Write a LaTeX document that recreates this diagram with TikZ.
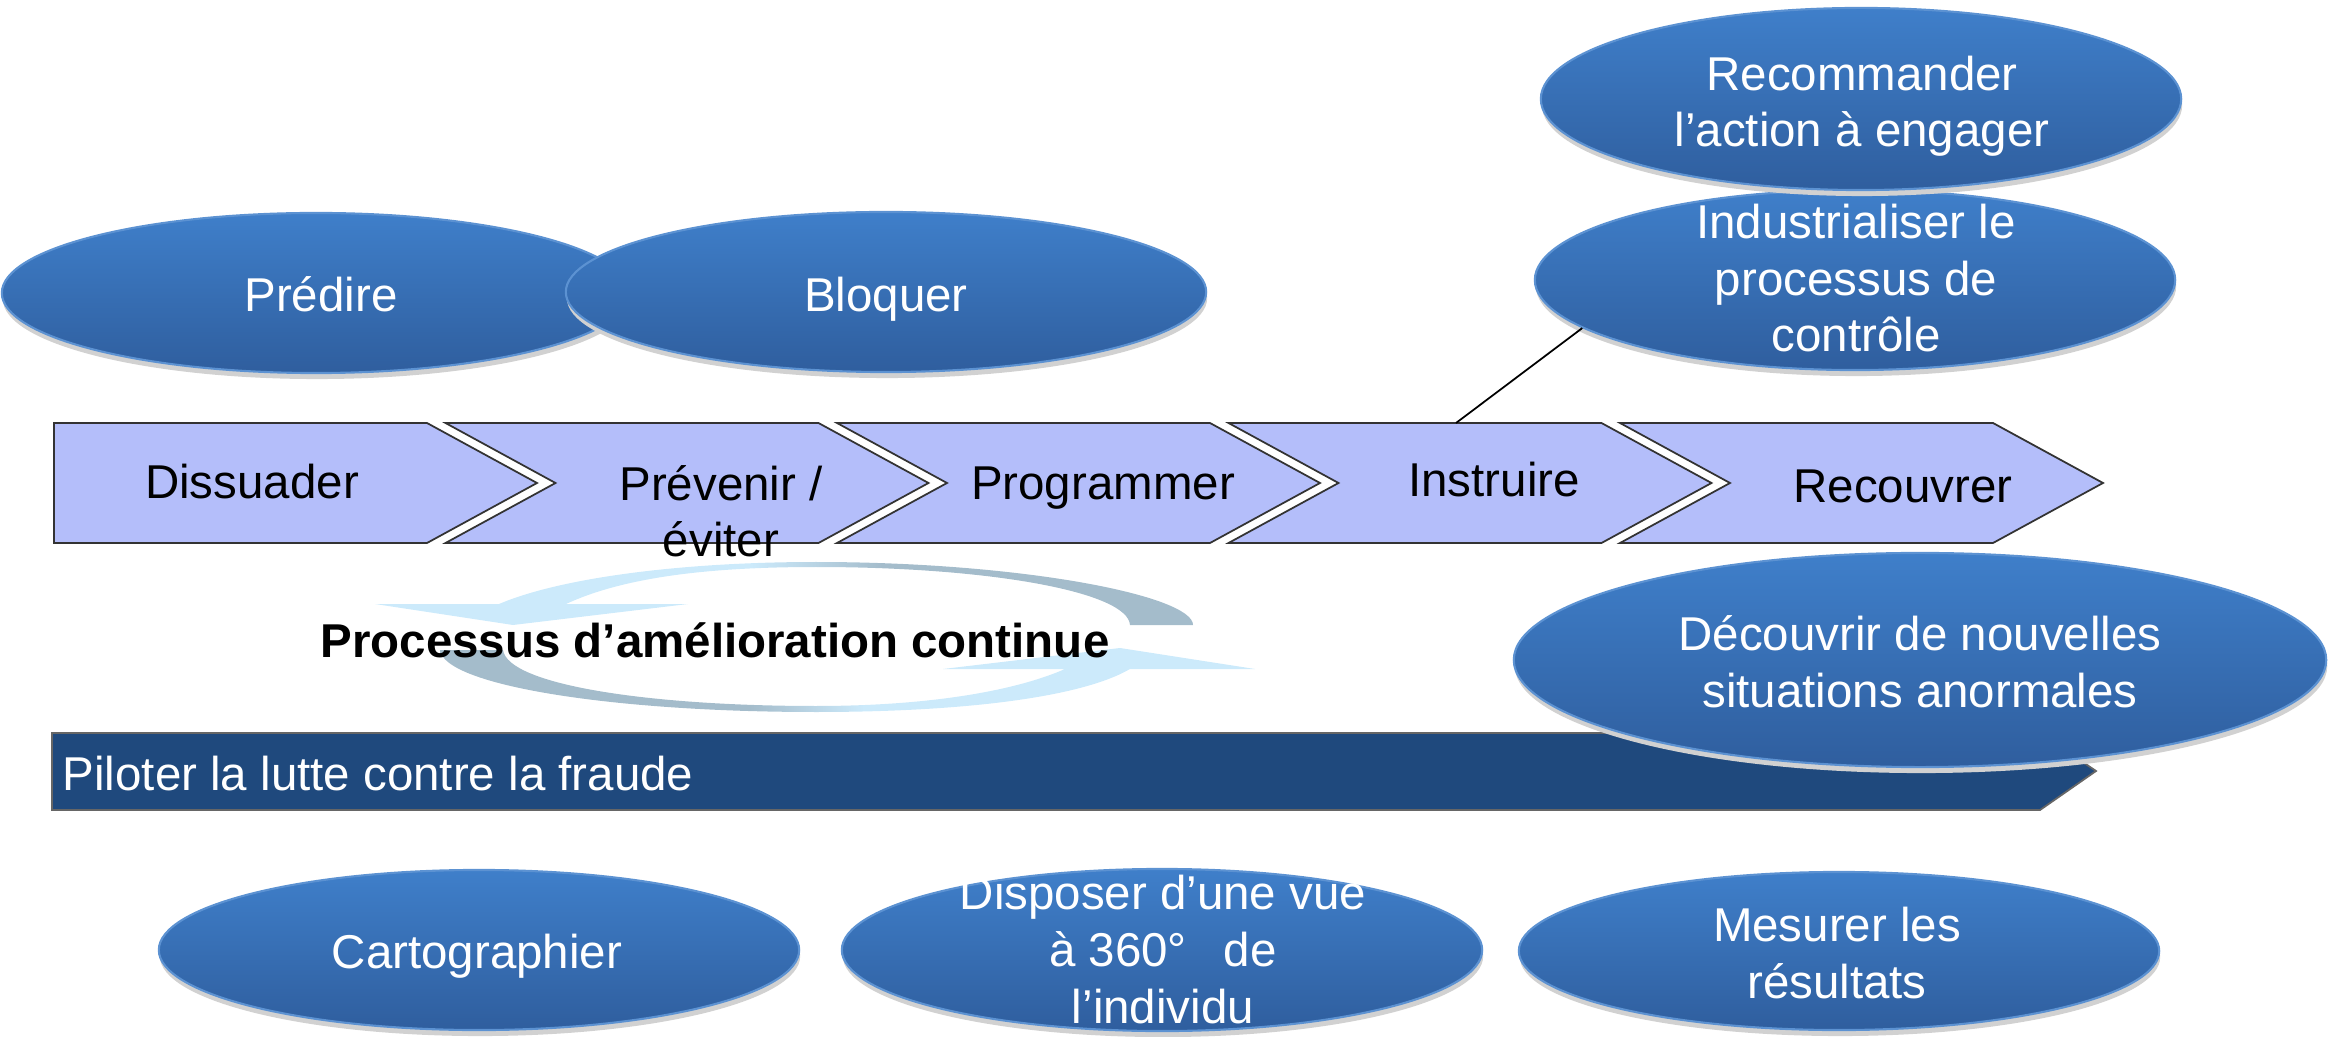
\documentclass[tikz,border=0pt]{standalone}
\usepackage{fontspec}
\setmainfont{Liberation Sans}
\usetikzlibrary{shapes.geometric,shadows}
\definecolor{chevfill}{HTML}{B4BEFA}
\definecolor{barblue}{HTML}{1F497D}
\definecolor{bubtop}{HTML}{3F7FCA}
\definecolor{bubbot}{HTML}{2F5E9E}
\definecolor{arclight}{HTML}{CCEAFB}
\definecolor{arcgrey}{HTML}{A4BCCB}
\pgfdeclarehorizontalshading{arcup}{100bp}{color(0bp)=(arclight); color(48bp)=(arclight); color(56bp)=(arcgrey); color(100bp)=(arcgrey)}
\pgfdeclarehorizontalshading{arcdown}{100bp}{color(0bp)=(arcgrey); color(44bp)=(arcgrey); color(51bp)=(arclight); color(100bp)=(arclight)}
\newcommand{\dgfont}{\fontsize{13.5}{16.2}\selectfont}

\begin{document}
\begin{tikzpicture}[x=0.01cm, y=-0.01cm,
	bubble/.style = {ellipse, inner sep=0pt, minimum width=6.4cm, minimum height=1.6cm, top color=bubtop, bottom color=bubbot, draw=bubtop!85!white, line width=0.6pt, drop shadow={shadow xshift=0.01cm, shadow yshift=-0.06cm, fill=black!18, opacity=1}},
	btxt/.style = {white, align=center, inner sep=0pt, anchor=base, font=\dgfont},
	ctxt/.style = {black, align=center, inner sep=0pt, anchor=base, font=\dgfont},
	chev/.style = {fill=chevfill, draw=black!80, line width=0.5pt}]
		\useasboundingbox (0,0) rectangle (2331,1037);
		\draw[chev] (54,423) -- ++(373,0) -- ++(110,60) -- ++(-110,60) -- ++(-373,0) -- cycle;
		\foreach \i in {1,...,4} {
			\pgfmathsetmacro{\s}{54+391.5*\i}
			\draw[chev] (\s,423) -- ++(373,0) -- ++(110,60) -- ++(-110,60) -- ++(-373,0) -- ++(110,-60) -- cycle;
		}
		\draw[fill=barblue, draw=black!60, line width=0.5pt] (52,733) -- (2040,733) -- (2096,771) -- (2040,810) -- (52,810) -- cycle;
		\shade[shading=arcup] (1193,625) .. controls (1193,596) and (1024,562) .. (816,562) .. controls (680,562) and (560,578) .. (499,604) -- (375,604) -- (513,625) -- (688,604) -- (566,604) .. controls (620,579) and (700,567) .. (816,567) .. controls (990,567) and (1128,592) .. (1130,625) -- cycle;
		\shade[shading=arcdown] (440,650) .. controls (444,685) and (610,712) .. (816,712) .. controls (960,712) and (1080,698) .. (1130,669) -- (1255,669) -- (1120,648) -- (943,669) -- (1065,669) .. controls (1010,693) and (920,706) .. (816,706) .. controls (650,706) and (508,685) .. (503,650) -- cycle;
		\node[ctxt] (dis) at (252,499) {Dissuader};
		\node[ctxt] (prev) at (721,557) {Prévenir /\\éviter};
		\node[ctxt] (prog) at (1103,500) {Programmer};
		\node[ctxt] (instr) at (1494,497) {Instruire};
		\node[ctxt] (recv) at (1903,503) {Recouvrer};
		\node[ctxt, font=\dgfont\bfseries] (proc) at (715,657) {Processus d’amélioration continue};
		\node[white, inner sep=0pt, anchor=base west, font=\dgfont] (pilot) at (62,790) {Piloter la lutte contre la fraude};
		\node[bubble, minimum width=6.28cm] (pred) at (316,293) {};
		\node[btxt] (predt) at (321,312) {Prédire};
		\node[bubble] (bloq) at (886,292) {};
		\node[btxt] (bloqt) at (886,312) {Bloquer};
		\node[bubble, minimum height=1.8cm] (indu) at (1855,280) {};
		\node[btxt] (indut) at (1856,352) {Industrialiser le\\processus de\\contrôle};
		\node[bubble, minimum height=1.82cm] (reco) at (1861,99) {};
		\node[btxt] (recot) at (1862,147) {Recommander\\l’action à engager};
		\node[bubble, minimum width=8.12cm, minimum height=2.14cm] (decv) at (1920,660) {};
		\node[btxt] (decvt) at (1920,707) {Découvrir de nouvelles\\situations anormales};
		\node[bubble] (carto) at (479,950) {};
		\node[btxt] (cartot) at (477,968) {Cartographier};
		\node[bubble, minimum height=1.62cm] (disp) at (1162,950) {};
		\node[btxt] (dispt) at (1163,1023) {Disposer d’une vue\\à 360°\hspace{0.5em} de\\l’individu};
		\node[bubble, minimum height=1.58cm] (mesu) at (1839,951) {};
		\node[btxt] (mesut) at (1837,998) {Mesurer les\\résultats};
		\coordinate (instop) at (1456,423);
		\draw[line width=0.5pt] (indu.190) -- (instop);
\end{tikzpicture}
\end{document}
